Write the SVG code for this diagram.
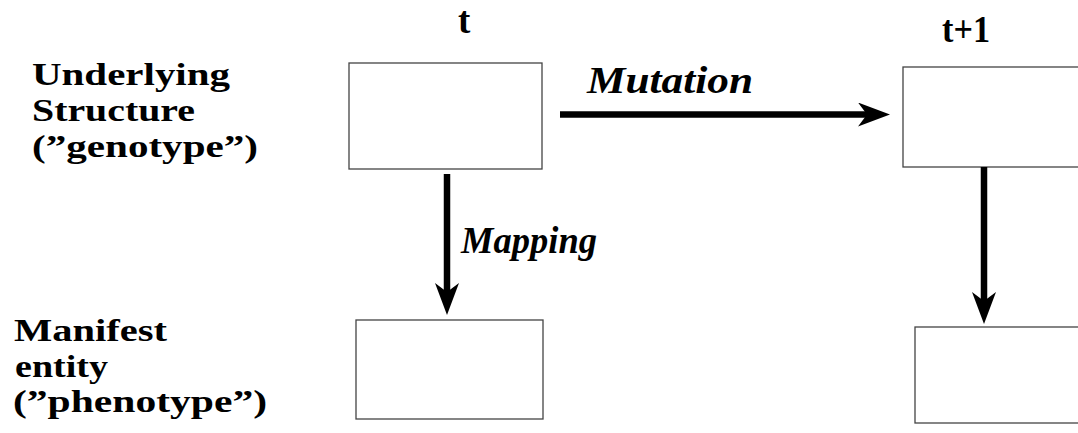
<svg xmlns="http://www.w3.org/2000/svg" width="1078" height="433" viewBox="0 0 1078 433">
<style>
.box{fill:#fff;stroke:#444;stroke-width:1.3}
.lbl{font-family:"Liberation Serif",serif;font-weight:bold;font-size:32px;fill:#000}
.time{font-family:"Liberation Serif",serif;font-weight:bold;font-size:37px;fill:#000}
.op{font-family:"Liberation Serif",serif;font-weight:bold;font-style:italic;font-size:38px;fill:#000}
.conn{stroke:#000;stroke-width:6.5;fill:none;marker-end:url(#ah)}
</style>
<defs>
<marker id="ah" viewBox="0 0 32 24" refX="12" refY="12" markerWidth="32" markerHeight="24" markerUnits="userSpaceOnUse" orient="auto">
<path d="M0,0 L32,12 L0,24 L9,12 Z" fill="#000"/>
</marker>
</defs>
<rect width="1078" height="433" fill="#fff"/>
<g id="label-genotype">
<text class="lbl"><tspan x="32" y="85" textLength="198" lengthAdjust="spacingAndGlyphs">Underlying</tspan><tspan x="32" y="121" textLength="163" lengthAdjust="spacingAndGlyphs">Structure</tspan><tspan x="32" y="157" textLength="226" lengthAdjust="spacingAndGlyphs">(”genotype”)</tspan></text>
</g>
<g id="label-phenotype">
<text class="lbl"><tspan x="14" y="341" textLength="153" lengthAdjust="spacingAndGlyphs">Manifest</tspan><tspan x="15" y="377" textLength="93" lengthAdjust="spacingAndGlyphs">entity</tspan><tspan x="13" y="412" textLength="254" lengthAdjust="spacingAndGlyphs">(”phenotype”)</tspan></text>
</g>
<g id="label-t"><text class="time" x="458" y="33">t</text></g>
<g id="label-t1"><text class="time" x="942" y="42" textLength="48" lengthAdjust="spacingAndGlyphs">t+1</text></g>
<g id="geno-t"><rect class="box" x="349" y="63" width="193" height="106"/></g>
<g id="pheno-t"><rect class="box" x="356" y="320" width="187" height="99"/></g>
<g id="geno-t1"><rect class="box" x="903" y="67" width="190" height="100"/></g>
<g id="pheno-t1"><rect class="box" x="915" y="327" width="180" height="96"/></g>
<g id="connectors">
<line class="conn" x1="560" y1="114.5" x2="870" y2="114.5"/>
<line class="conn" x1="447" y1="174" x2="447" y2="295"/>
<line class="conn" x1="984" y1="167" x2="984" y2="304"/>
<text class="op" x="587" y="93" textLength="166" lengthAdjust="spacingAndGlyphs">Mutation</text>
<text class="op" x="461" y="253" textLength="136" lengthAdjust="spacingAndGlyphs">Mapping</text>
</g>
</svg>
